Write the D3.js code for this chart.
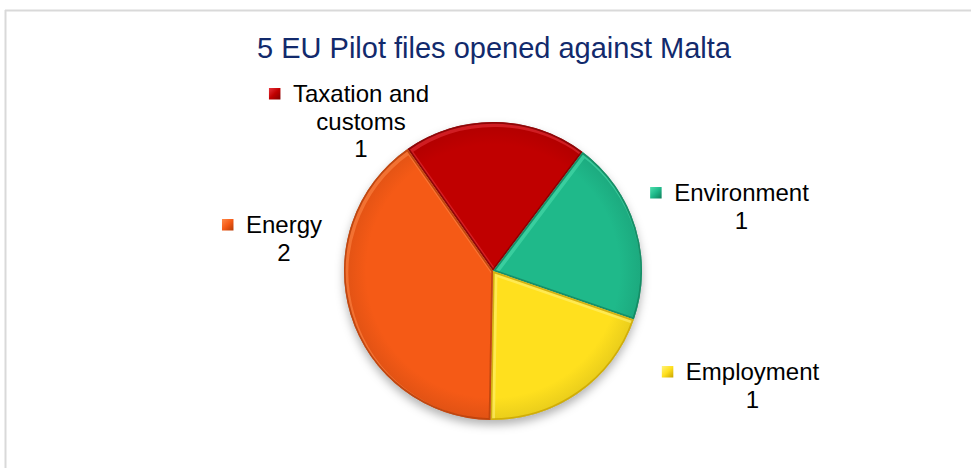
<!DOCTYPE html>
<html>
<head>
<meta charset="utf-8">
<script src="https://cdn.jsdelivr.net/npm/d3@7/dist/d3.min.js"></script>
<style>
  html, body { margin: 0; padding: 0; background: #fff; }
  svg { display: block; }
  text { font-family: "Liberation Sans", Arial, sans-serif; }
</style>
</head>
<body>
<svg id="chart" width="971" height="468"></svg>
<script>
// ---- data ----
const title = "5 EU Pilot files opened against Malta";
const categories = ["Taxation and customs", "Environment", "Employment", "Energy"];
const values = [1, 1, 1, 2];
const labelLines = [["Taxation and", "customs"], ["Environment"], ["Employment"], ["Energy"]];

// ---- styles / layout ----
const W = 971, H = 468;
const baseColors = ["#C00000", "#1FB98A", "#FFE01E", "#F55A16"];
const edgeColors = ["#7E0000", "#0F7F5A", "#C9A400", "#B43C08"];
const lightColors = ["#E8343E", "#4FE0AE", "#FFF27A", "#FF8A4A"];
const center = [493, 271];
const radius = 149;
const startDeg = -35;
const labelAnchors = [[361, 102], [741.5, 201], [752.5, 380], [284, 233]];
const lineGap = 27.5;

const svg = d3.select("#chart");
const defs = svg.append("defs");

// drop shadow
const f = defs.append("filter").attr("id", "shadow")
  .attr("x", "-20%").attr("y", "-20%").attr("width", "140%").attr("height", "150%");
f.append("feDropShadow").attr("dx", 0).attr("dy", 5).attr("stdDeviation", 5)
  .attr("flood-color", "#000").attr("flood-opacity", 0.3);

// frame
svg.append("line").attr("x1", 5).attr("x2", W).attr("y1", 10.5).attr("y2", 10.5)
  .attr("stroke", "#d9d9d9").attr("stroke-width", 2);
svg.append("line").attr("x1", 5.5).attr("x2", 5.5).attr("y1", 10).attr("y2", H)
  .attr("stroke", "#d9d9d9").attr("stroke-width", 2);

// title
svg.append("text").attr("x", 494).attr("y", 58.3).attr("text-anchor", "middle")
  .attr("font-size", 29).attr("fill", "#122A6C").text(title);

// pie
const pie = d3.pie().sort(null).value(d => d)
  .startAngle(startDeg * Math.PI / 180)
  .endAngle((startDeg + 360) * Math.PI / 180);
const arcs = pie(values);
const arc = d3.arc().innerRadius(0).outerRadius(radius);

const g = svg.append("g").attr("transform", `translate(${center[0]},${center[1]})`);

// shadow base
g.append("circle").attr("r", radius).attr("fill", "#888").attr("filter", "url(#shadow)");

arcs.forEach((a, i) => {
  const cid = "clip" + i;
  defs.append("clipPath").attr("id", cid).append("path").attr("d", arc(a));
  const gid = "grad" + i;
  const rg = defs.append("radialGradient").attr("id", gid)
    .attr("gradientUnits", "userSpaceOnUse")
    .attr("cx", 0).attr("cy", 0).attr("r", radius);
  rg.append("stop").attr("offset", "0%").attr("stop-color", baseColors[i]);
  rg.append("stop").attr("offset", "85%").attr("stop-color", baseColors[i]);
  rg.append("stop").attr("offset", "100%").attr("stop-color", d3.color(baseColors[i]).darker(0.25));

  const sg = g.append("g").attr("clip-path", `url(#${cid})`);
  sg.append("path").attr("d", arc(a)).attr("fill", `url(#${gid})`);
  sg.append("path").attr("d", arc(a))
    .attr("fill", "none").attr("stroke", lightColors[i]).attr("stroke-width", 6)
    .attr("stroke-opacity", 0.55)
    .attr("transform", "translate(1.5,2)");
  sg.append("path").attr("d", arc(a))
    .attr("fill", "none").attr("stroke", edgeColors[i]).attr("stroke-width", 3.5)
    .attr("stroke-opacity", 0.8);
});

// labels
arcs.forEach((a, i) => {
  const [cx, by] = labelAnchors[i];
  const lines = labelLines[i].concat([String(values[i])]);
  const t = svg.append("g");
  let firstW = 0;
  lines.forEach((ln, j) => {
    const tx = t.append("text").attr("x", cx).attr("y", by + j * lineGap)
      .attr("text-anchor", "middle").attr("font-size", 24).attr("fill", "#000").text(ln);
    if (j === 0) firstW = tx.node().getComputedTextLength();
  });
  const mx = cx - firstW / 2 - 12.5 - 11.5;
  const mg = "mgrad" + i;
  const lg = defs.append("linearGradient").attr("id", mg).attr("x1", 0).attr("y1", 0).attr("x2", 1).attr("y2", 1);
  lg.append("stop").attr("offset", "0%").attr("stop-color", lightColors[i]);
  lg.append("stop").attr("offset", "50%").attr("stop-color", baseColors[i]);
  lg.append("stop").attr("offset", "100%").attr("stop-color", edgeColors[i]);
  t.append("rect").attr("x", mx).attr("y", by - 14).attr("width", 11.5).attr("height", 11.5)
    .attr("fill", `url(#${mg})`);
});
</script>
</body>
</html>
